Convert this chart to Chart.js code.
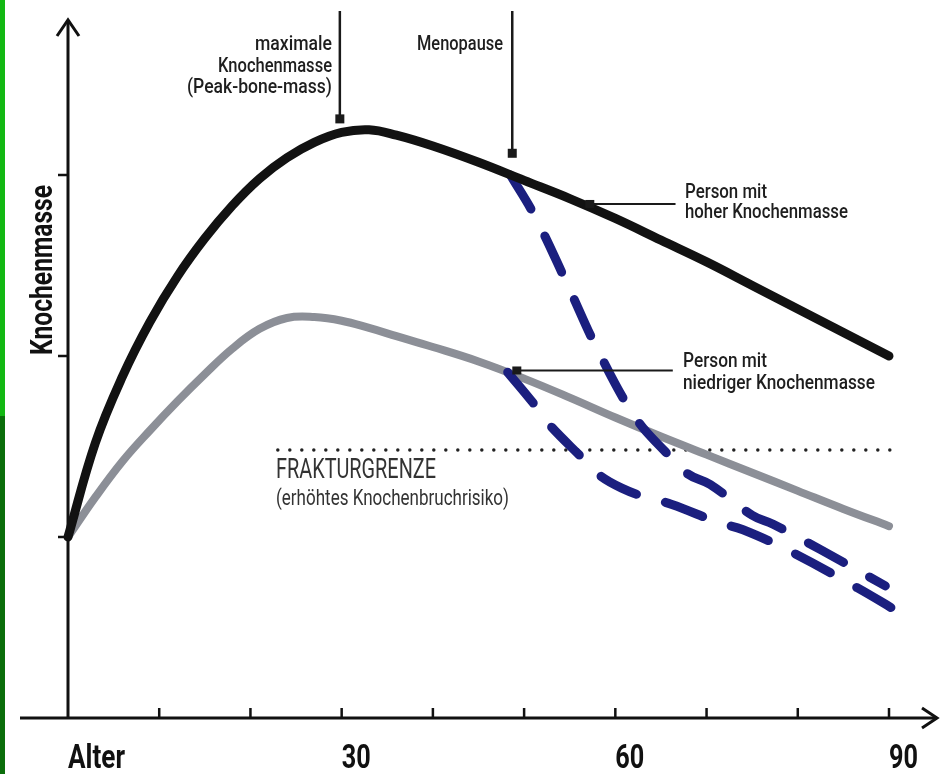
<!DOCTYPE html>
<html><head><meta charset="utf-8">
<script src="https://cdn.jsdelivr.net/npm/chart.js@4.4.1/dist/chart.umd.min.js"></script>
<style>html,body{margin:0;padding:0;background:#fff;}canvas{display:block}</style>
</head><body>
<canvas id="c" width="940" height="774"></canvas>
<script>
// ---- data ----
const xTickValues = [0, 10, 20, 30, 40, 50, 60, 70, 80, 90];
const xTickLabels = ['Alter', '', '', '30', '', '', '60', '', '', '90'];
const yTickValues = [1, 2, 3];
const yAxisTitle = 'Knochenmasse';

const highAges = [0, 3, 6, 9, 12, 15, 18, 21, 24, 27, 30, 33, 36, 40, 45, 50, 55, 60, 65, 70, 75, 80, 85, 90];
const highMass = [1.0, 1.52, 1.89, 2.19, 2.44, 2.65, 2.83, 2.98, 3.095, 3.18, 3.235, 3.25, 3.22, 3.16, 3.07, 2.97, 2.87, 2.76, 2.64, 2.52, 2.39, 2.26, 2.13, 2.0];

const lowAges = [0, 3, 6, 9, 12, 15, 18, 21, 24, 27, 30, 33, 36, 40, 45, 50, 55, 60, 65, 70, 75, 80, 85, 90];
const lowMass = [1.0, 1.22, 1.42, 1.59, 1.75, 1.90, 2.04, 2.15, 2.21, 2.215, 2.195, 2.155, 2.11, 2.05, 1.97, 1.875, 1.77, 1.66, 1.555, 1.455, 1.355, 1.255, 1.155, 1.06];

const highMenoAges = [48.5, 51.2, 54.7, 58.1, 62.2, 65.5, 67.9, 70.4, 75.0, 77.3, 82.5, 89.6];
const highMenoMass = [3.0, 2.77, 2.40, 2.03, 1.66, 1.47, 1.35, 1.29, 1.12, 1.07, 0.93, 0.73];

const lowMenoAges = [48.2, 51.0, 52.6, 56.5, 58.3, 60.7, 63.3, 66.2, 71.3, 74.0, 79.2, 86.5, 90.9];
const lowMenoMass = [1.91, 1.74, 1.63, 1.43, 1.34, 1.27, 1.22, 1.18, 1.08, 1.04, 0.92, 0.72, 0.59];

const fractureAges = [23, 90.7];
const fractureMass = [1.48, 1.48];

const labelPeak = ['maximale', 'Knochenmasse', '(Peak-bone-mass)'];
const labelMeno = ['Menopause'];
const labelHigh = ['Person mit', 'hoher Knochenmasse'];
const labelLow = ['Person mit', 'niedriger Knochenmasse'];
const labelFracture = ['FRAKTURGRENZE', '(erhöhtes Knochenbruchrisiko)'];

// ---- helpers ----
const pts = (xs, ys) => xs.map((x, i) => ({ x: x, y: ys[i] }));
const FONT = 'Roboto, "DejaVu Sans", sans-serif';

function txt(ctx, s, x, y, size, weight, w, align, color) {
  ctx.save();
  ctx.font = weight + ' ' + size + 'px ' + FONT;
  const m = ctx.measureText(s).width;
  const sx = w ? w / m : 1;
  ctx.translate(x, y);
  ctx.scale(sx, 1);
  ctx.textAlign = align;
  ctx.textBaseline = 'alphabetic';
  ctx.fillStyle = color || '#1e1e1e';
  ctx.fillText(s, 0, 0);
  ctx.restore();
}

const decor = {
  id: 'decor',
  beforeDraw(chart) {
    const ctx = chart.ctx;
    ctx.save();
    ctx.fillStyle = '#ffffff';
    ctx.fillRect(0, 0, chart.width, chart.height);
    ctx.fillStyle = '#13b813';
    ctx.fillRect(0, 0, 5, 416);
    ctx.fillStyle = '#0b6e0b';
    ctx.fillRect(0, 416, 5, chart.height - 416);
    ctx.restore();
  },
  afterDraw(chart) {
    const ctx = chart.ctx, xs = chart.scales.x, ys = chart.scales.y;
    const X = v => xs.getPixelForValue(v), Y = v => ys.getPixelForValue(v);
    const x0 = X(0), y0 = Y(0);
    ctx.save();
    ctx.strokeStyle = '#111';
    ctx.fillStyle = '#111';
    ctx.lineCap = 'butt';
    // axes
    ctx.lineWidth = 3;
    ctx.beginPath();
    ctx.moveTo(x0, y0 + 1); ctx.lineTo(x0, 20);
    ctx.moveTo(20, y0); ctx.lineTo(937, y0);
    ctx.stroke();
    // arrowheads
    ctx.lineJoin = 'miter';
    ctx.beginPath();
    ctx.moveTo(x0 - 11, 36); ctx.lineTo(x0, 20); ctx.lineTo(x0 + 11, 36);
    ctx.moveTo(922, y0 - 10); ctx.lineTo(937, y0); ctx.lineTo(922, y0 + 10);
    ctx.stroke();
    // ticks
    ctx.lineWidth = 2.5;
    ctx.beginPath();
    xTickValues.forEach(v => { if (v > 0) { ctx.moveTo(X(v), y0); ctx.lineTo(X(v), y0 - 10); } });
    yTickValues.forEach(v => { ctx.moveTo(x0, Y(v)); ctx.lineTo(x0 - 10, Y(v)); });
    ctx.stroke();
    // tick labels
    xTickValues.forEach((v, i) => {
      const s = xTickLabels[i];
      if (s) txt(ctx, s, X(v), 768, 34, 'bold', s === 'Alter' ? 57 : 29, 'left', '#111');
    });
    // y title
    ctx.save();
    ctx.translate(52, 270);
    ctx.rotate(-Math.PI / 2);
    txt(ctx, yAxisTitle, 0, 0, 31, 'bold', 170, 'center', '#111');
    ctx.restore();

    // annotation markers
    ctx.lineWidth = 2.5;
    ctx.strokeStyle = '#1a1a1a';
    ctx.fillStyle = '#1a1a1a';
    const px = X(29.8), py = Y(3.31);
    ctx.beginPath(); ctx.moveTo(px, 11); ctx.lineTo(px, py); ctx.stroke();
    ctx.fillRect(px - 4.5, py - 4.5, 9, 9);
    const mx = X(48.7), my = Y(3.12);
    ctx.beginPath(); ctx.moveTo(mx, 11); ctx.lineTo(mx, my); ctx.stroke();
    ctx.fillRect(mx - 4.5, my - 4.5, 9, 9);
    ctx.lineWidth = 2;
    const hx = X(57.2), hy = Y(2.84);
    ctx.beginPath(); ctx.moveTo(hx, hy); ctx.lineTo(X(66.6), hy); ctx.stroke();
    ctx.fillRect(hx - 4.5, hy - 4, 9, 8);
    const lx = X(49.2), ly = Y(1.92);
    ctx.beginPath(); ctx.moveTo(lx, ly); ctx.lineTo(X(66.3), ly); ctx.stroke();
    ctx.fillRect(lx - 4.5, ly - 4, 9, 8);

    // texts
    const pw = [77, 114, 145], pb = [50, 72, 93];
    labelPeak.forEach((s, i) => txt(ctx, s, 332, pb[i], 21, '500', pw[i], 'right'));
    txt(ctx, labelMeno[0], 503, 50, 21, '500', 86, 'right');
    const hw = [82, 163], hb = [198, 218];
    labelHigh.forEach((s, i) => txt(ctx, s, 685, hb[i], 20, '500', hw[i], 'left'));
    const lw = [84, 192], lb = [367, 389];
    labelLow.forEach((s, i) => txt(ctx, s, 683, lb[i], 20, '500', lw[i], 'left'));
    txt(ctx, labelFracture[0], 276, 478, 27, '400', 160, 'left', '#333');
    txt(ctx, labelFracture[1], 276, 505, 22, '400', 233, 'left', '#333');
    ctx.restore();
  }
};

const common = { pointRadius: 0, pointHoverRadius: 0, fill: false, clip: false,
  borderCapStyle: 'round', borderJoinStyle: 'round', tension: 0.4 };

new Chart(document.getElementById('c'), {
  type: 'line',
  data: {
    datasets: [
      Object.assign({}, common, { label: 'Person mit hoher Knochenmasse', data: pts(highAges, highMass),
        borderColor: '#121212', borderWidth: 9, order: 0 }),
      Object.assign({}, common, { label: 'hoch – nach Menopause', data: pts(highMenoAges, highMenoMass),
        borderColor: '#1b1f7f', borderWidth: 9, borderDash: [40, 30], order: 1 }),
      Object.assign({}, common, { label: 'niedrig – nach Menopause', data: pts(lowMenoAges, lowMenoMass),
        borderColor: '#1b1f7f', borderWidth: 9, borderDash: [40, 30], order: 1 }),
      Object.assign({}, common, { label: 'Person mit niedriger Knochenmasse', data: pts(lowAges, lowMass),
        borderColor: '#8c8f97', borderWidth: 8, order: 2 }),
      Object.assign({}, common, { label: 'Frakturgrenze', data: pts(fractureAges, fractureMass),
        borderColor: '#222', borderWidth: 3.5, borderDash: [0, 12], tension: 0, order: 3 })
    ]
  },
  options: {
    responsive: false,
    animation: false,
    devicePixelRatio: 1,
    layout: { padding: { left: 68, right: 51, top: 718 - 3.8 * 181, bottom: 56 } },
    scales: {
      x: { type: 'linear', min: 0, max: 90, display: false },
      y: { type: 'linear', min: 0, max: 3.8, display: false }
    },
    plugins: { legend: { display: false }, tooltip: { enabled: false } },
    events: []
  },
  plugins: [decor]
});
</script>
</body></html>
